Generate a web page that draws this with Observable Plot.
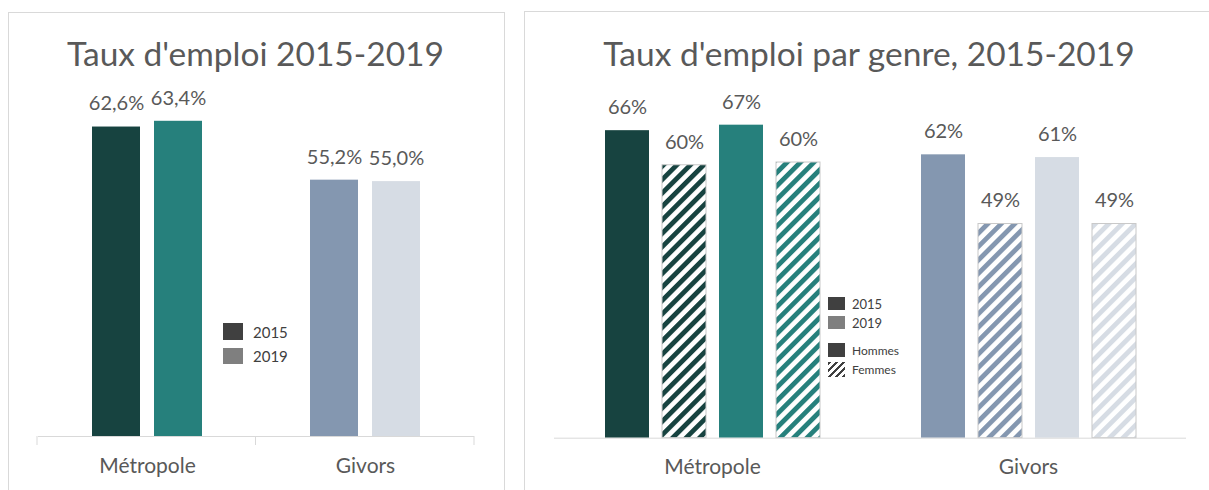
<!DOCTYPE html>
<html><head><meta charset="utf-8">
<script src="https://cdn.jsdelivr.net/npm/d3@7"></script>
<script src="https://cdn.jsdelivr.net/npm/@observablehq/plot@0.6"></script>
<style>
body{margin:0;background:#fff;font-family:Lato,sans-serif;}
#root{position:relative;width:1209px;height:490px;overflow:hidden;background:#fff;}
.panel{position:absolute;border:1px solid #d9d9d9;box-sizing:border-box;background:#fff;}
.title{position:absolute;text-align:center;font-size:33.5px;line-height:32px;color:#595959;white-space:nowrap;}
.chart{position:absolute;top:0;}
.legrow{position:absolute;display:flex;align-items:center;color:#404040;white-space:nowrap;}
.sw{display:inline-block;}
</style></head>
<body><div id="root">
<div class="panel" style="left:8px;top:12px;width:497px;height:500px;"></div>
<div class="panel" style="left:524px;top:11px;width:700px;height:500px;"></div>
</div>
<script>
// ---------- data ----------
const regions = ["Métropole", "Givors"];
const years = ["2015", "2019"];
const genres = ["Hommes", "Femmes"];
const rate2015 = [62.6, 55.2];
const rate2019 = [63.4, 55.0];
const hommes2015 = [66.0, 61.6];
const femmes2015 = [59.7, 49.0];
const hommes2019 = [67.0, 61.1];
const femmes2019 = [60.2, 49.0];
const title1 = "Taux d'emploi 2015-2019";
const title2 = "Taux d'emploi par genre, 2015-2019";

// ---------- styles ----------
const solid = {
  "Métropole|2015": "#174340", "Métropole|2019": "#26807c",
  "Givors|2015": "#8497b0", "Givors|2019": "#d6dce4"
};
const hatchId = k => "hatch-" + (regions.indexOf(k.split("|")[0])) + "-" + k.split("|")[1];
const textColor = "#595959";
const gridColor = "#d9d9d9";

const locale = d3.formatLocale({decimal: ",", thousands: " ", grouping: [3], currency: ["", "€"]});
const fmt1 = locale.format(".1f");
const fmt0 = locale.format(".0f");

const root = document.getElementById("root");

// ---------- left chart ----------
const leftData = regions.flatMap((r, i) => [
  {region: r, year: years[0], value: rate2015[i]},
  {region: r, year: years[1], value: rate2019[i]}
]);
const leftY0 = 19.5;
const solidKeys = Object.keys(solid);
const left = Plot.plot({
  width: 515, height: 490,
  marginLeft: 37, marginRight: 41, marginTop: 73.4, marginBottom: 54,
  style: {fontFamily: "Lato, sans-serif", fontSize: "21px", color: textColor, background: "transparent", overflow: "visible"},
  fx: {domain: regions, padding: 0, axis: "bottom", label: null, tickSize: 0, tickPadding: 22},
  x: {domain: years, paddingInner: 0.23, paddingOuter: 0.85, axis: null},
  y: {domain: [leftY0, 70], axis: null},
  color: {type: "ordinal", domain: solidKeys, range: solidKeys.map(k => solid[k])},
  marks: [
    Plot.barY(leftData, {fx: "region", x: "year", y1: leftY0, y2: "value", fill: d => d.region + "|" + d.year}),
    Plot.ruleY([leftY0], {stroke: gridColor, strokeWidth: 1}),
    Plot.text(leftData, {fx: "region", x: "year", y: "value", text: d => fmt1(d.value) + "%", dy: -23, fontSize: 20, fill: textColor})
  ]
});
left.classList.add("chart");
left.style.left = "0px";
root.appendChild(left);
{
  const fx = left.scale("fx"), y = left.scale("y");
  const [r0, r1] = fx.range;
  const n = fx.domain.length;
  const b = d3.range(n + 1).map(i => r0 + i * (r1 - r0) / n);
  const y0 = y.apply(leftY0);
  d3.select(left).append("g").selectAll("line").data(b).join("line")
    .attr("x1", d => d).attr("x2", d => d).attr("y1", y0).attr("y2", y0 + 9)
    .attr("stroke", gridColor).attr("stroke-width", 1);
}

// ---------- right chart ----------
const seriesKeys = ["H2015", "F2015", "H2019", "F2019"];
const rightData = regions.flatMap((r, i) => [
  {region: r, key: "H2015", year: "2015", genre: genres[0], value: hommes2015[i]},
  {region: r, key: "F2015", year: "2015", genre: genres[1], value: femmes2015[i]},
  {region: r, key: "H2019", year: "2019", genre: genres[0], value: hommes2019[i]},
  {region: r, key: "F2019", year: "2019", genre: genres[1], value: femmes2019[i]}
]);
const fillKey = d => d.region + "|" + d.year + "|" + d.genre;
const allKeys = solidKeys.flatMap(k => [k + "|" + genres[0], k + "|" + genres[1]]);
const allFills = solidKeys.flatMap(k => [solid[k], "url(#" + hatchId(k) + ")"]);
const rightY0 = 10;
const right = Plot.plot({
  width: 694, height: 490,
  marginLeft: 38, marginRight: 23, marginTop: 108.2, marginBottom: 52.3,
  style: {fontFamily: "Lato, sans-serif", fontSize: "21px", color: textColor, background: "transparent", overflow: "visible"},
  fx: {domain: regions, padding: 0, axis: "bottom", label: null, tickSize: 0, tickPadding: 21},
  x: {domain: seriesKeys, paddingInner: 0.232, paddingOuter: 0.878, axis: null},
  y: {domain: [rightY0, 70], axis: null},
  color: {type: "ordinal", domain: allKeys, range: allFills},
  marks: [
    Plot.barY(rightData.filter(d => d.genre === genres[0]), {fx: "region", x: "key", y1: rightY0, y2: "value", fill: fillKey}),
    Plot.barY(rightData.filter(d => d.genre === genres[1]), {fx: "region", x: "key", y1: rightY0, y2: "value", fill: fillKey, stroke: "#c8c8c8", strokeWidth: 1}),
    Plot.ruleY([rightY0], {stroke: gridColor, strokeWidth: 1}),
    Plot.text(rightData, {fx: "region", x: "key", y: "value", text: d => fmt0(d.value) + "%", dy: -23, fontSize: 20, fill: textColor})
  ]
});
right.classList.add("chart");
right.style.left = "515px";
{
  const defs = d3.select(right).insert("defs", ":first-child");
  solidKeys.forEach(k => {
    const p = defs.append("pattern").attr("id", hatchId(k)).attr("patternUnits", "userSpaceOnUse")
      .attr("width", 9.5).attr("height", 9.5).attr("patternTransform", "rotate(45)");
    p.append("rect").attr("width", 9.5).attr("height", 9.5).attr("fill", "#fff");
    p.append("rect").attr("width", 4.8).attr("height", 9.5).attr("fill", solid[k]);
  });
}
root.appendChild(right);

// ---------- titles ----------
function addTitle(text, x, w, top) {
  const d = document.createElement("div");
  d.className = "title";
  d.style.left = x + "px"; d.style.width = w + "px"; d.style.top = top + "px";
  d.textContent = text;
  root.appendChild(d);
}
addTitle(title1, 0, 511, 37);
addTitle(title2, 515, 708, 37);

// ---------- legends ----------
function legendRow(x, y, swW, swH, bg, label, fs, gap) {
  const row = document.createElement("div");
  row.className = "legrow";
  row.style.left = x + "px"; row.style.top = y + "px"; row.style.height = swH + "px";
  row.style.fontSize = fs + "px";
  const sw = document.createElement("span");
  sw.className = "sw";
  sw.style.width = swW + "px"; sw.style.height = swH + "px"; sw.style.background = bg;
  const t = document.createElement("span");
  t.textContent = label; t.style.marginLeft = gap + "px";
  row.appendChild(sw); row.appendChild(t);
  root.appendChild(row);
}
legendRow(223, 323, 20, 17, "#404040", years[0], 15, 10);
legendRow(223, 348, 20, 16, "#7f7f7f", years[1], 15, 10);
legendRow(828, 297, 17, 13, "#404040", years[0], 13, 7);
legendRow(828, 316, 17, 13, "#7f7f7f", years[1], 13, 7);
legendRow(828, 343, 17, 14, "#404040", genres[0], 12, 7);
legendRow(828, 362, 17, 15, "repeating-linear-gradient(-45deg, #404040 0 2.2px, #fff 2.2px 5px)", genres[1], 12, 7);
</script>
</body></html>
